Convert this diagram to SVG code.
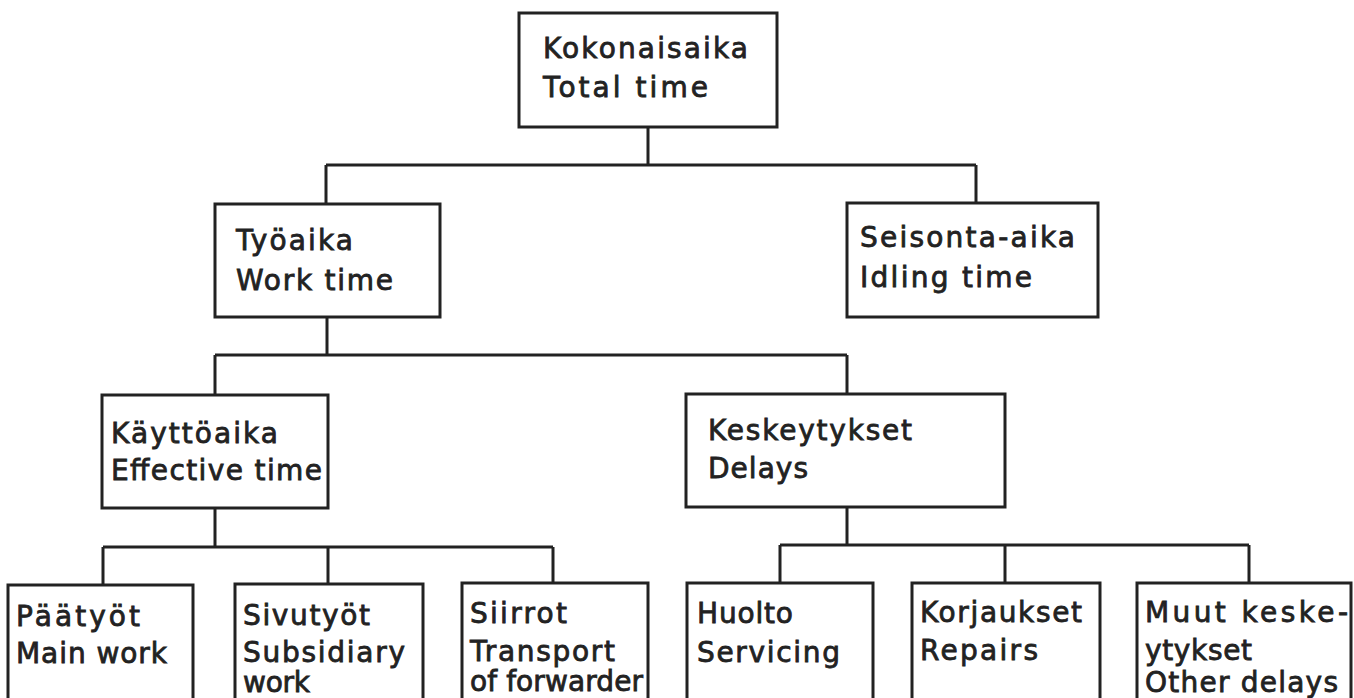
<svg xmlns="http://www.w3.org/2000/svg" width="1354" height="698" viewBox="0 0 1354 698">
<style>
.box{fill:#fff;stroke:#222;stroke-width:3}
.ln{fill:none;stroke:#222;stroke-width:3}
text{font-family:"DejaVu Sans","Liberation Sans",sans-serif;font-size:28px;fill:#222;stroke:#222;stroke-width:0.8}
</style>
<rect width="1354" height="698" fill="#fff"/>
<g id="connectors">
<path class="ln" d="M648 127V165M326 165H976M326 165V204M976 165V203"/>
<path class="ln" d="M327 317V355M215 355H847M215 355V395M847 355V394"/>
<path class="ln" d="M215 508V547M103 547H553M103 547V585M328 547V584M553 547V583"/>
<path class="ln" d="M847 507V545M780 545H1249M780 545V583M1005 545V583M1249 545V583"/>
</g>
<g id="n-total"><rect class="box" x="519" y="13" width="258" height="114"/>
<text x="543" y="58" textLength="205" lengthAdjust="spacing">Kokonaisaika</text>
<text x="543" y="97" textLength="165" lengthAdjust="spacing">Total time</text></g>
<g id="n-work"><rect class="box" x="215" y="204" width="225" height="113"/>
<text x="236" y="250" textLength="117" lengthAdjust="spacing">Työaika</text>
<text x="236" y="290" textLength="157" lengthAdjust="spacing">Work time</text></g>
<g id="n-idling"><rect class="box" x="847" y="203" width="251" height="114"/>
<text x="860" y="247" textLength="215" lengthAdjust="spacing">Seisonta-aika</text>
<text x="860" y="287" textLength="172" lengthAdjust="spacing">Idling time</text></g>
<g id="n-effective"><rect class="box" x="102" y="395" width="226" height="113"/>
<text x="111" y="443" textLength="167" lengthAdjust="spacing">Käyttöaika</text>
<text x="111" y="480" textLength="211" lengthAdjust="spacing">Effective time</text></g>
<g id="n-delays"><rect class="box" x="686" y="394" width="319" height="113"/>
<text x="708" y="440" textLength="204" lengthAdjust="spacing">Keskeytykset</text>
<text x="708" y="478" textLength="100" lengthAdjust="spacing">Delays</text></g>
<g id="n-main"><rect class="box" x="8" y="585" width="185" height="120"/>
<text x="16" y="626" textLength="124" lengthAdjust="spacing">Päätyöt</text>
<text x="16" y="663" textLength="151" lengthAdjust="spacing">Main work</text></g>
<g id="n-subsidiary"><rect class="box" x="235" y="584" width="188" height="120"/>
<text x="243" y="625" textLength="127" lengthAdjust="spacing">Sivutyöt</text>
<text x="243" y="662" textLength="162" lengthAdjust="spacing">Subsidiary</text>
<text x="243" y="692" textLength="67" lengthAdjust="spacing">work</text></g>
<g id="n-transport"><rect class="box" x="462" y="583" width="186" height="120"/>
<text x="470" y="623" textLength="97" lengthAdjust="spacing">Siirrot</text>
<text x="470" y="661" textLength="145" lengthAdjust="spacing">Transport</text>
<text x="470" y="691" textLength="173" lengthAdjust="spacing">of forwarder</text></g>
<g id="n-servicing"><rect class="box" x="687" y="583" width="186" height="120"/>
<text x="697" y="623" textLength="96" lengthAdjust="spacing">Huolto</text>
<text x="697" y="662" textLength="143" lengthAdjust="spacing">Servicing</text></g>
<g id="n-repairs"><rect class="box" x="912" y="583" width="188" height="120"/>
<text x="920" y="622" textLength="162" lengthAdjust="spacing">Korjaukset</text>
<text x="920" y="660" textLength="118" lengthAdjust="spacing">Repairs</text></g>
<g id="n-other"><rect class="box" x="1137" y="583" width="214" height="120"/>
<text x="1145" y="622" textLength="203" lengthAdjust="spacing">Muut keske-</text>
<text x="1145" y="660" textLength="107" lengthAdjust="spacing">ytykset</text>
<text x="1145" y="692" textLength="193" lengthAdjust="spacing">Other delays</text></g>
</svg>
